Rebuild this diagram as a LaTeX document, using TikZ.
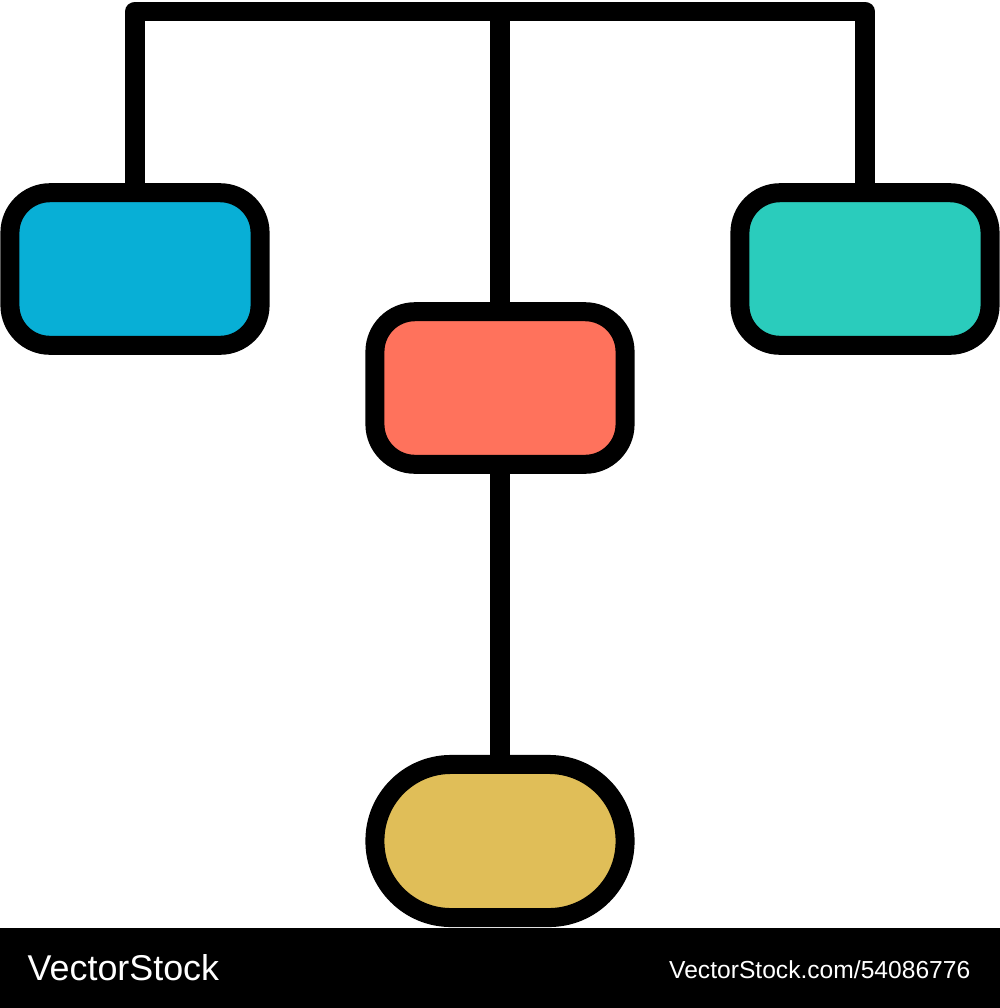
\documentclass[tikz,border=0pt]{standalone}
\usepackage{fontspec}
\setmainfont{Liberation Sans}
\usepackage{tikz}

\definecolor{boxblue}{HTML}{08AFD6}
\definecolor{boxteal}{HTML}{2ACCBC}
\definecolor{boxcoral}{HTML}{FF725C}
\definecolor{boxgold}{HTML}{E0BE58}

\begin{document}
\begin{tikzpicture}[
      x=0.01cm, y=-0.01cm,
      box/.style={draw,line width=0.19cm,rounded corners=0.4cm,inner sep=0pt,
                  minimum width=2.5cm,minimum height=1.525cm},
      pill/.style={box,rounded corners=0.76cm,minimum height=1.53cm},
      link/.style={line width=0.19cm,line join=round},
      footertext/.style={text=white,inner sep=0pt}
    ]
    \useasboundingbox (0,0) rectangle (1000,1008);
    % Draw the boxes.
    \node[box,fill=boxblue] (left) at (135,269) {};
    \node[box,fill=boxteal] (right) at (865,269) {};
    \node[box,fill=boxcoral] (mid) at (500,388) {};
    \node[pill,fill=boxgold] (bottom) at (500,841) {};
    % Draw the links.
    \coordinate (top) at (500,11);
    \draw[link] (left.north) |- (top) -| (right.north);
    \draw[link] (top) -- (mid.north);
    \draw[link] (mid.south) -- (bottom.north);
    % Draw the footer.
    \fill (0,928) rectangle (1000,1008);
    \node[footertext,anchor=base west,font=\fontsize{10.2pt}{12pt}\selectfont] (brand) at (27,980) {VectorStock};
    \node[footertext,anchor=base east,font=\fontsize{7pt}{8.4pt}\selectfont] (url) at (971,978) {VectorStock.com/54086776};
    \end{tikzpicture}
\end{document}
